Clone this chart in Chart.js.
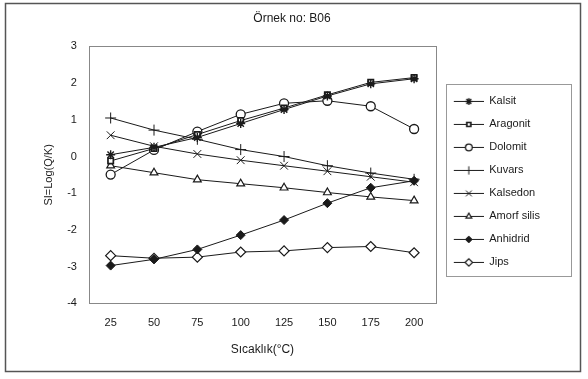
<!DOCTYPE html>
<html>
<head>
<meta charset="utf-8">
<script src="https://cdn.jsdelivr.net/npm/chart.js@4/dist/chart.umd.min.js"></script>
<style>
  body { margin: 0; background: #fff; }
  #wrap { width: 588px; height: 379px; }
</style>
</head>
<body>
<div id="wrap"><canvas id="myChart" width="588" height="379"></canvas></div>
<script>
// data
const temps = ['25', '50', '75', '100', '125', '150', '175', '200'];
const kalsit     = [0.05, 0.25, 0.52, 0.90, 1.28, 1.65, 1.98, 2.12];
const aragonit   = [-0.12, 0.22, 0.60, 0.98, 1.32, 1.68, 2.02, 2.15];
const dolomit    = [-0.49, 0.18, 0.68, 1.15, 1.45, 1.52, 1.37, 0.75];
const kuvars     = [1.05, 0.72, 0.47, 0.19, 0.00, -0.25, -0.45, -0.62];
const kalsedon   = [0.58, 0.28, 0.07, -0.10, -0.25, -0.40, -0.55, -0.70];
const amorfSilis = [-0.25, -0.44, -0.63, -0.74, -0.85, -0.98, -1.10, -1.20];
const anhidrid   = [-2.97, -2.80, -2.53, -2.14, -1.73, -1.27, -0.85, -0.66];
const jips       = [-2.70, -2.77, -2.74, -2.60, -2.57, -2.48, -2.45, -2.62];
const yMin = -4, yMax = 3, yStep = 1;

const INK = '#1a1a1a';
const FONT = "'Liberation Sans', Arial, sans-serif";

function series(label, data, style, radius, fill, bw) {
  return {
    label: label,
    data: data,
    borderColor: INK,
    borderWidth: 1,
    backgroundColor: fill,
    pointStyle: style,
    pointRadius: radius,
    pointBackgroundColor: fill,
    pointBorderColor: INK,
    pointBorderWidth: bw,
    tension: 0,
    fill: false
  };
}

const datasets = [
  series('Kalsit', kalsit, 'star', 4.5, INK, 1.4),
  series('Aragonit', aragonit, 'rect', 3.8, '#fff', 1.7),
  series('Dolomit', dolomit, 'circle', 4.5, '#fff', 1.3),
  series('Kuvars', kuvars, 'cross', 5.5, INK, 1),
  series('Kalsedon', kalsedon, 'crossRot', 5.5, INK, 1),
  series('Amorf silis', amorfSilis, 'triangle', 4.5, '#fff', 1.2),
  series('Anhidrid', anhidrid, 'rectRot', 4.5, INK, 1),
  series('Jips', jips, 'rectRot', 5, '#fff', 1.2)
];

// little line+marker pictures for the legend
function legendMark(ds) {
  const cv = document.createElement('canvas');
  cv.width = 36; cv.height = 12;
  const c = cv.getContext('2d');
  c.strokeStyle = INK;
  c.lineWidth = 1;
  c.beginPath(); c.moveTo(6, 6.5); c.lineTo(36, 6.5); c.stroke();
  c.fillStyle = ds.pointBackgroundColor;
  c.lineWidth = ds.pointBorderWidth;
  if (Chart.helpers && Chart.helpers.drawPoint) {
    Chart.helpers.drawPoint(c, { pointStyle: ds.pointStyle, radius: ds.pointRadius * 0.75, rotation: 0, borderWidth: ds.pointBorderWidth }, 21, 6.5);
  }
  return cv;
}
const marks = datasets.map(legendMark);

const frames = {
  id: 'frames',
  beforeDraw(chart) {
    const c = chart.ctx;
    c.save();
    c.fillStyle = '#fff';
    c.fillRect(0, 0, chart.width, chart.height);
    c.strokeStyle = '#555';
    c.lineWidth = 1.5;
    c.strokeRect(5.5, 3.5, 575, 368);
    c.restore();
  },
  beforeDatasetsDraw(chart) {
    const a = chart.chartArea;
    const c = chart.ctx;
    c.save();
    c.strokeStyle = '#888';
    c.lineWidth = 1;
    c.strokeRect(Math.round(a.left) + 0.5, Math.round(a.top) + 0.5, Math.round(a.right - a.left), Math.round(a.bottom - a.top));
    c.restore();
  },
  afterDraw(chart) {
    const hb = chart.legend.legendHitBoxes;
    if (!hb || !hb.length) return;
    const first = hb[0], last = hb[hb.length - 1];
    const c = chart.ctx;
    c.save();
    c.strokeStyle = '#999';
    c.lineWidth = 1;
    const x = Math.round(first.left) - 1.5;
    const y = Math.round(first.top) - 10.5;
    c.strokeRect(x, y, 125, Math.round(last.top + last.height - first.top) + 20);
    c.restore();
  }
};

const ctx = document.getElementById('myChart');

new Chart(ctx, {
  type: 'line',
  data: { labels: temps, datasets: datasets },
  plugins: [frames],
  options: {
    responsive: false,
    animation: false,
    devicePixelRatio: 1,
    layout: { padding: { left: 34, right: 38, top: 5, bottom: 22 } },
    plugins: {
      title: {
        display: true,
        text: 'Örnek no: B06',
        color: INK,
        font: { family: FONT, size: 12, weight: 'normal' },
        padding: { top: 6, bottom: 21 }
      },
      legend: {
        position: 'right',
        fullSize: false,
        title: { display: true, text: ' ', font: { size: 10, lineHeight: 1.3 }, padding: 0 },
        labels: {
          usePointStyle: true,
          pointStyleWidth: 36,
          padding: 12,
          color: INK,
          font: { family: FONT, size: 11 },
          generateLabels(chart) {
            return chart.data.datasets.map((ds, i) => ({
              text: ds.label,
              pointStyle: marks[i],
              fillStyle: ds.pointBackgroundColor,
              strokeStyle: INK,
              lineWidth: 0,
              hidden: false,
              datasetIndex: i,
              fontColor: INK
            }));
          }
        }
      },
      tooltip: { enabled: false }
    },
    scales: {
      x: {
        offset: true,
        grid: { display: false, drawTicks: false },
        border: { display: false },
        ticks: { color: INK, padding: 13, font: { family: FONT, size: 11 }, maxRotation: 0 },
        title: {
          display: true,
          text: 'Sıcaklık(°C)',
          color: INK,
          font: { family: FONT, size: 12 },
          padding: { top: 0, bottom: 0 }
        }
      },
      y: {
        min: yMin,
        max: yMax,
        grid: { display: false, drawTicks: false },
        border: { display: false },
        ticks: { stepSize: yStep, color: INK, padding: 12, font: { family: FONT, size: 11 } },
        title: {
          display: true,
          text: 'SI=Log(Q/K)',
          color: INK,
          font: { family: FONT, size: 11 },
          padding: { top: 8, bottom: 0 }
        }
      }
    }
  }
});
</script>
</body>
</html>
